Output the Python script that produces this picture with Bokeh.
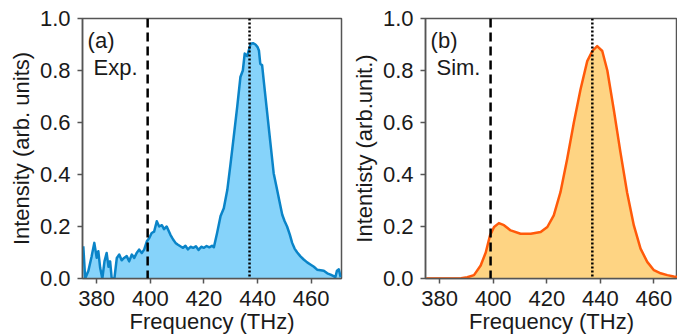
from bokeh.plotting import figure
from bokeh.layouts import row
from bokeh.models import Range1d, Span, Label, FixedTicker, ColumnDataSource, NumeralTickFormatter
from bokeh.embed import file_html
from bokeh.resources import INLINE

# ---------------- data ----------------
freq_exp = [375.0, 375.7, 376.9, 378.1, 379.1, 380.0, 380.6, 381.3, 382.1, 382.9,
            383.7, 384.4, 385.0, 385.6, 386.6, 387.5, 388.4, 389.3, 390.2, 391.2,
            392.1, 393.1, 394.0, 394.9, 395.8, 396.8, 397.7, 398.7, 399.6, 400.5,
            401.4, 402.4, 403.3, 404.3, 405.1, 406.1, 407.5, 408.5, 409.4, 410.3,
            411.2, 412.2, 413.1, 414.0, 415.0, 416.0, 417.0, 418.0, 419.0, 420.0,
            421.0, 422.0, 423.0, 423.7, 424.9, 426.2, 427.4, 428.7, 429.9, 431.1,
            432.4, 433.6, 434.5, 435.2, 436.1, 436.8, 437.4, 438.3, 439.2, 440.0,
            440.5, 441.0, 441.7, 442.3, 443.6, 444.8, 446.0, 447.3, 448.5, 449.2,
            450.1, 451.0, 452.0, 452.9, 453.8, 454.8, 456.0, 457.2, 458.5, 459.7,
            461.0, 462.2, 463.5, 464.7, 466.0, 467.2, 468.2, 469.0, 469.6, 470.3, 471.0]
intensity_exp = [0.124, 0.0, 0.03, 0.085, 0.137, 0.08, 0.105, 0.04, 0.0, 0.066,
                 0.098, 0.045, 0.066, 0.0, 0.0, 0.079, 0.092, 0.07, 0.079, 0.086,
                 0.066, 0.092, 0.079, 0.098, 0.111, 0.098, 0.111, 0.143, 0.156, 0.175,
                 0.18, 0.22, 0.2, 0.205, 0.19, 0.2, 0.168, 0.15, 0.137, 0.13,
                 0.124, 0.118, 0.126, 0.112, 0.122, 0.118, 0.124, 0.11, 0.122, 0.118,
                 0.125, 0.12, 0.126, 0.12, 0.175, 0.24, 0.27, 0.34, 0.44, 0.545,
                 0.66, 0.775, 0.80, 0.865, 0.855, 0.88, 0.903, 0.905, 0.9, 0.89,
                 0.877, 0.826, 0.82, 0.76, 0.635, 0.52, 0.405, 0.34, 0.28, 0.245,
                 0.22, 0.2, 0.17, 0.137, 0.115, 0.1, 0.085, 0.073, 0.062, 0.054,
                 0.045, 0.034, 0.032, 0.03, 0.02, 0.015, 0.01, 0.005, 0.03, 0.035, 0.005]

freq_sim = [375.0, 380.0, 385.0, 388.0, 390.3, 392.8, 395.3, 397.2, 398.8, 400.3,
            402.1, 404.0, 406.5, 410.2, 414.0, 417.7, 420.2, 422.6, 425.1, 427.6,
            430.1, 432.6, 435.1, 437.0, 438.8, 440.7, 442.6, 445.0, 447.5, 450.0,
            452.5, 455.0, 457.5, 460.0, 462.5, 465.0, 467.4, 470.0, 471.0]
intensity_sim = [0.0, 0.0, 0.0, 0.001, 0.005, 0.013, 0.05, 0.10, 0.166, 0.198,
                 0.213, 0.205, 0.185, 0.172, 0.172, 0.179, 0.198, 0.243, 0.332, 0.46,
                 0.60, 0.728, 0.836, 0.875, 0.894, 0.875, 0.80, 0.65, 0.485, 0.33,
                 0.204, 0.115, 0.064, 0.032, 0.02, 0.013, 0.008, 0.004, 0.003]

dashed_line_freq = 399.0
dotted_line_freq = 437.0
x_ticks = [380, 400, 420, 440, 460]
y_ticks = [0.0, 0.2, 0.4, 0.6, 0.8, 1.0]

FONT = "Liberation Sans"
FS = "22px"
AXIS_COLOR = "#555555"
TEXT_COLOR = "#1a1a1a"


def make_panel(width, min_left, min_right, x_end, xs, ys, line_color, fill_color,
               ylabel, tag, tag2):
    p = figure(width=width, height=336, output_backend="svg", toolbar_location=None,
               x_range=Range1d(374.7, x_end), y_range=Range1d(0, 1.0))
    p.min_border_left = min_left
    p.min_border_right = min_right
    p.min_border_top = 18
    p.min_border_bottom = 57
    p.background_fill_color = "white"
    p.border_fill_color = "white"
    p.outline_line_color = AXIS_COLOR
    p.outline_line_width = 1.5
    p.xgrid.visible = False
    p.ygrid.visible = False

    src = ColumnDataSource(dict(x=xs, y=ys))
    p.varea(x="x", y1=0, y2="y", source=src, fill_color=fill_color, fill_alpha=1.0)
    p.line(x="x", y="y", source=src, line_color=line_color, line_width=2.5,
           line_join="round")

    p.add_layout(Span(location=dashed_line_freq, dimension="height", line_color="black",
                      line_width=2.5, line_dash="9 5"))
    p.add_layout(Span(location=dotted_line_freq, dimension="height", line_color="black",
                      line_width=2.5, line_dash="2 2"))

    p.add_layout(Label(x=376.6, y=0.916, text=tag, text_font=FONT, text_font_size=FS,
                       text_color=TEXT_COLOR, text_baseline="alphabetic"))
    p.add_layout(Label(x=378.8, y=0.813, text=tag2, text_font=FONT, text_font_size=FS,
                       text_color=TEXT_COLOR, text_baseline="alphabetic"))

    p.xaxis.ticker = FixedTicker(ticks=x_ticks)
    p.yaxis.ticker = FixedTicker(ticks=y_ticks)
    p.yaxis.formatter = NumeralTickFormatter(format="0.0")
    for ax in (p.xaxis, p.yaxis):
        ax.axis_line_color = AXIS_COLOR
        ax.axis_line_width = 1.5
        ax.major_tick_line_color = AXIS_COLOR
        ax.major_tick_line_width = 1.5
        ax.major_tick_out = 5
        ax.major_tick_in = 0
        ax.minor_tick_line_color = None
        ax.major_label_text_font = FONT
        ax.major_label_text_font_size = FS
        ax.major_label_text_color = TEXT_COLOR
        ax.axis_label_text_font = FONT
        ax.axis_label_text_font_size = FS
        ax.axis_label_text_font_style = "normal"
        ax.axis_label_text_color = TEXT_COLOR
    p.xaxis.major_label_standoff = 7
    p.yaxis.major_label_standoff = 7
    p.xaxis.axis_label = "Frequency (THz)"
    p.yaxis.axis_label = ylabel
    p.xaxis.axis_label_standoff = 0
    p.yaxis.axis_label_standoff = 3
    return p


p1 = make_panel(345, 82, 4, 471.3, freq_exp, intensity_exp, "#0a84c8", "#86d3fa",
                "Intensity (arb. units)", "(a)", "Exp.")
p2 = make_panel(332, 80, 0, 468.8, freq_sim, intensity_sim, "#ff5a0a", "#fed483",
                "Intentisty (arb.unit.)", "(b)", "Sim.")

layout = row(p1, p2)
open("out.html", "w").write(file_html(layout, INLINE))
